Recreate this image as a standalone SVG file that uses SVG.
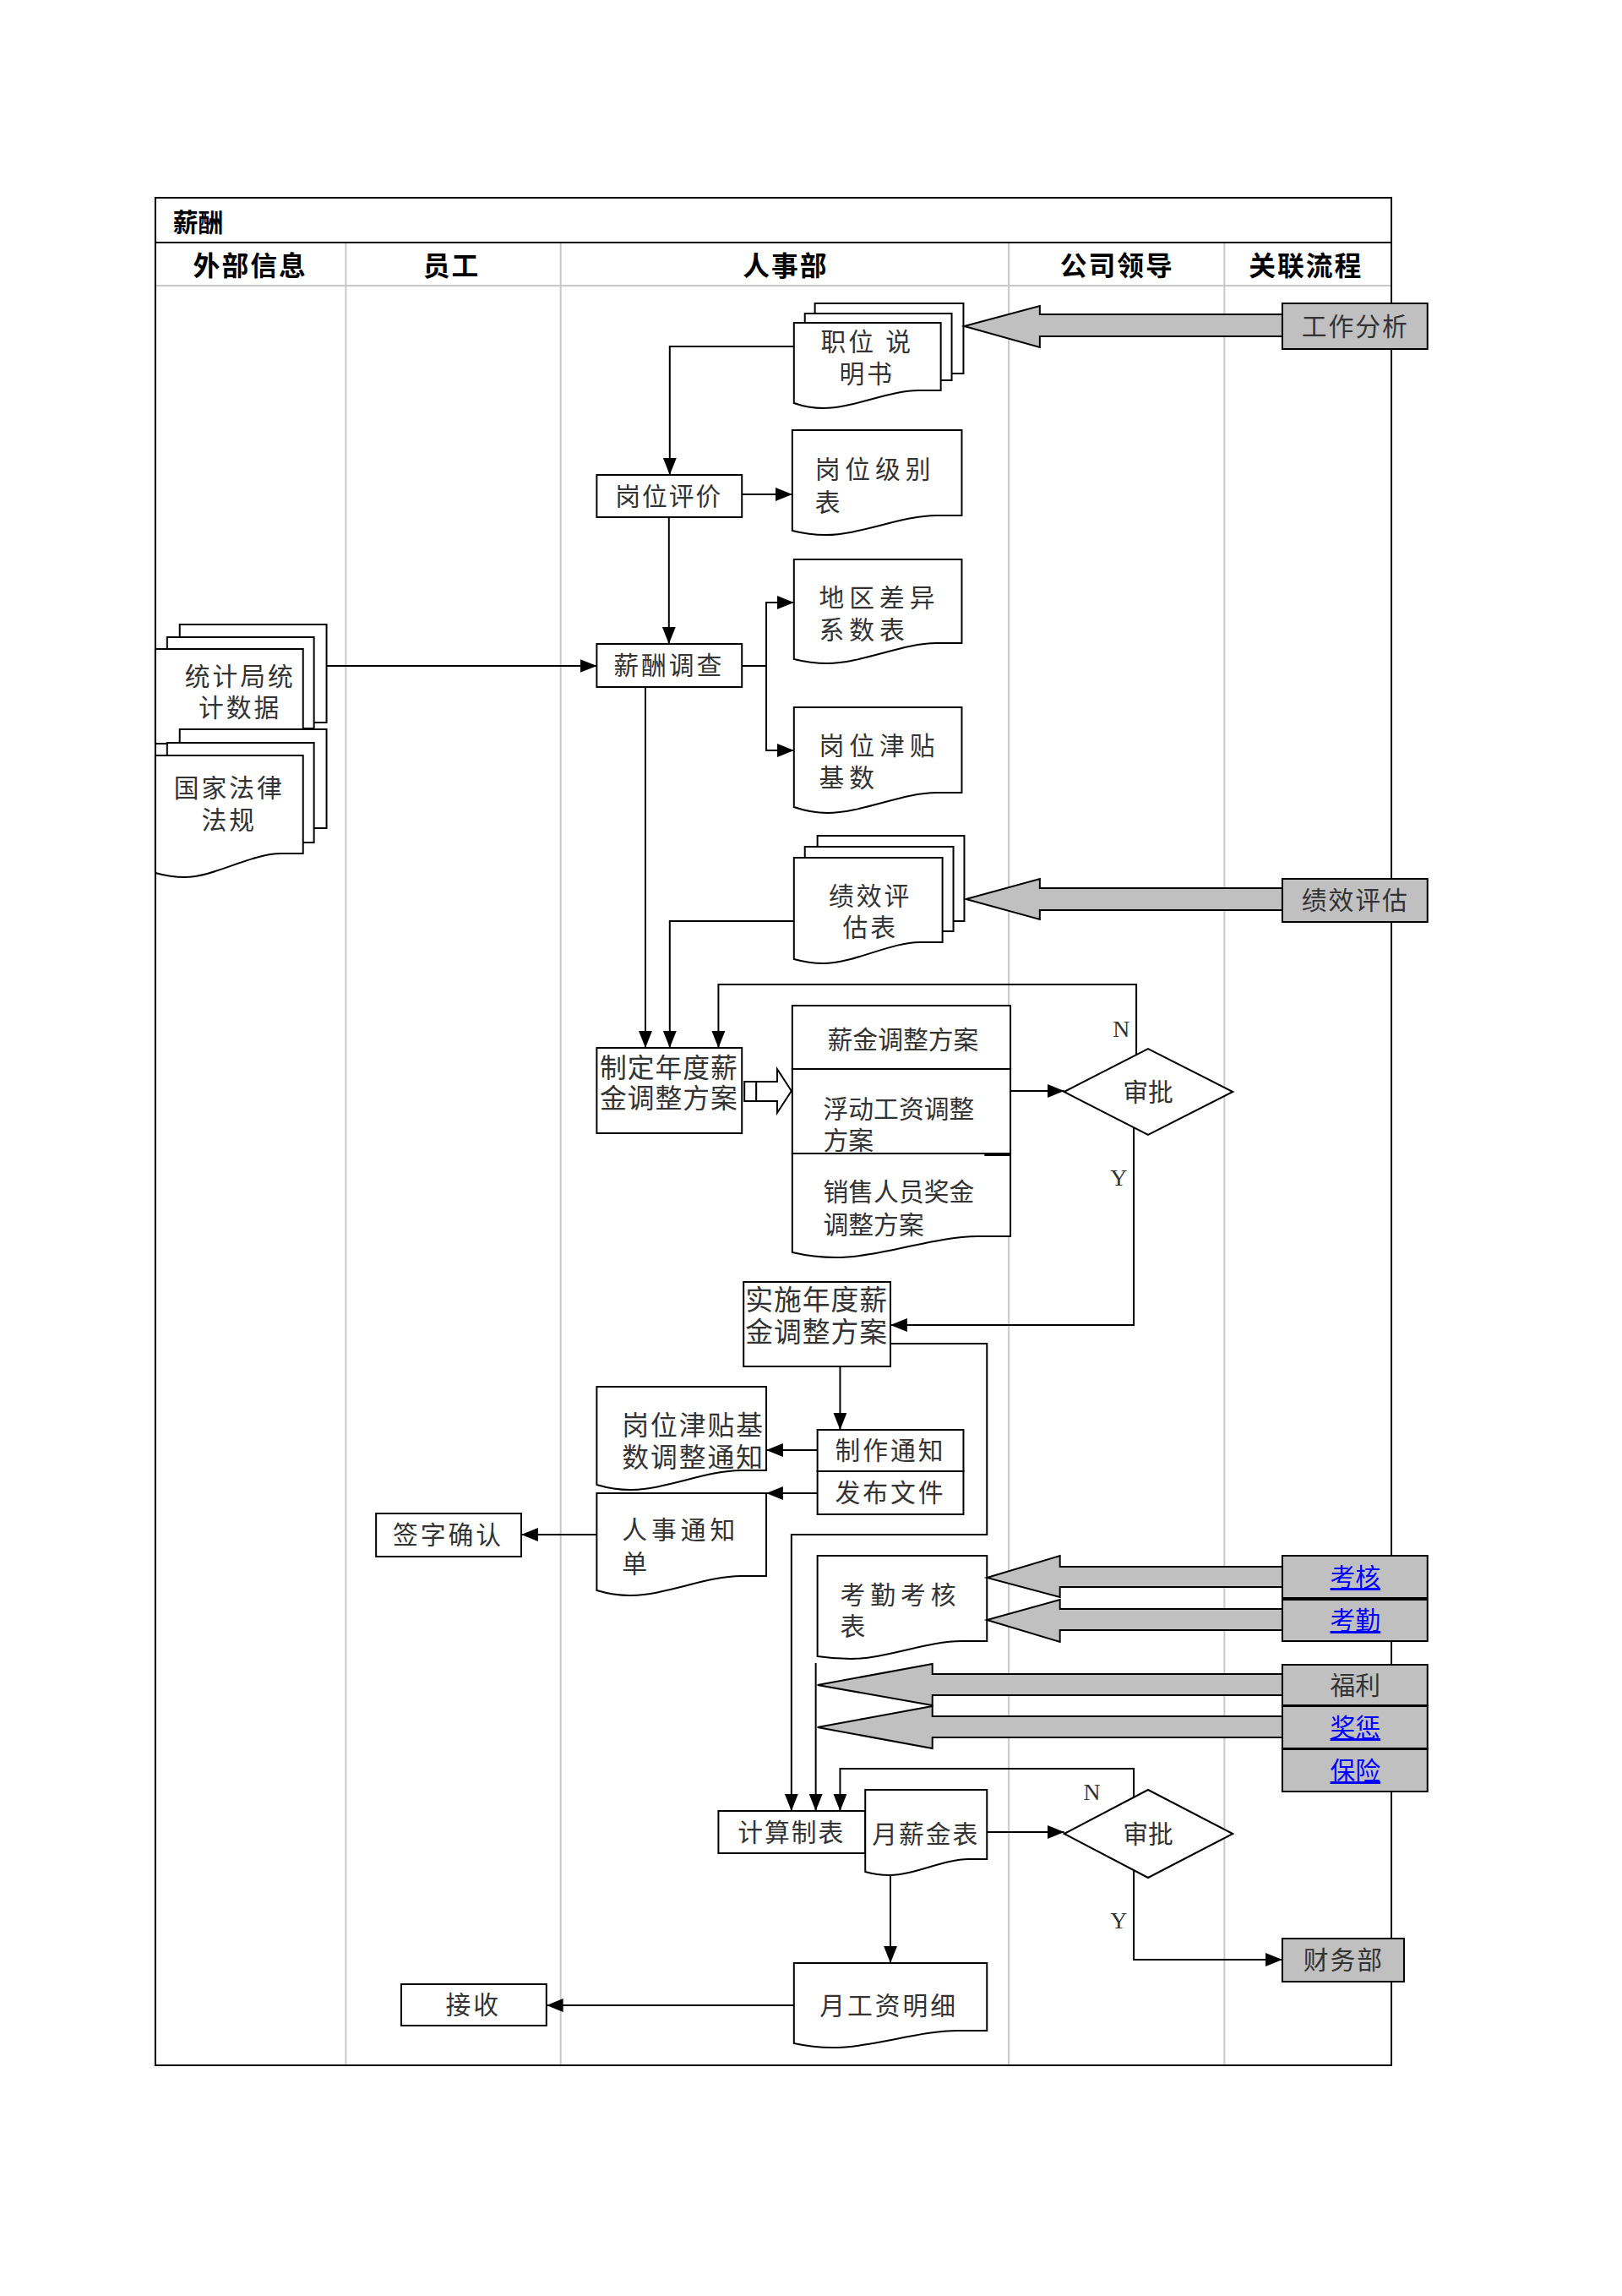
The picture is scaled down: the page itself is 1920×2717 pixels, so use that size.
<svg xmlns="http://www.w3.org/2000/svg" width="1920" height="2717" viewBox="0 0 1920 2717">
<style>
.b{fill:#fff;stroke:#000;stroke-width:2}
.g{fill:#c0c0c0;stroke:#000;stroke-width:2}
.l{fill:none;stroke:#000;stroke-width:2}
.lane{fill:none;stroke:#c8c8c8;stroke-width:2}
.t{font-family:"Liberation Sans","Noto Sans CJK SC",sans-serif;font-size:30px;fill:#333}
.c{text-anchor:middle}
.h{font-weight:bold;fill:#000;font-size:32px}
.k{fill:#00f;text-decoration:underline}
.s{font-family:"Liberation Serif",serif;font-size:28px;fill:#333}
</style>
<defs>
<marker id="a" markerWidth="20" markerHeight="16" refX="20" refY="8" orient="auto" markerUnits="userSpaceOnUse"><path d="M0,0 L20,8 L0,16 Z" fill="#000"/></marker>
</defs>
<rect width="1920" height="2717" fill="#fff"/>
<g id="diagram" transform="translate(1.14,0) scale(0.9933,1)">
<g id="frame">
<line class="lane" x1="411" y1="287" x2="411" y2="2444"/>
<line class="lane" x1="667" y1="287" x2="667" y2="2444"/>
<line class="lane" x1="1201" y1="287" x2="1201" y2="2444"/>
<line class="lane" x1="1458" y1="287" x2="1458" y2="2444"/>
<line class="lane" x1="184" y1="338" x2="1657" y2="338"/>
<rect x="184" y="234" width="1473" height="2210" fill="none" stroke="#000" stroke-width="2"/>
<line class="l" x1="184" y1="287" x2="1657" y2="287"/>
<text class="t h" x="205" y="274" style="font-size:30px">薪酬</text>
<text class="t h c" x="297" y="326" letter-spacing="2">外部信息</text>
<text class="t h c" x="537" y="326" letter-spacing="2">员工</text>
<text class="t h c" x="935" y="326" letter-spacing="2">人事部</text>
<text class="t h c" x="1330" y="326" letter-spacing="2">公司领导</text>
<text class="t h c" x="1555" y="326" letter-spacing="2">关联流程</text>
</g>
<g id="n-zwsms">
<rect class="b" x="970" y="359" width="177" height="83"/>
<rect class="b" x="958" y="371" width="175" height="79"/>
<path class="b" d="M945,382 H1120 V462 H1094 C1059,462 1015,483 980,483 Q962,483 945,477 Z"/>
<text class="t c" x="1032" y="415" letter-spacing="3">职位 说</text>
<text class="t c" x="1032" y="453" letter-spacing="3">明书</text>
</g>
<g id="n-gzfx"><rect class="g" x="1527" y="359" width="173" height="54"/><text class="t c" x="1614" y="397" letter-spacing="2">工作分析</text></g>
<g id="n-gwpj"><rect class="b" x="710" y="562" width="173" height="50"/><text class="t c" x="796" y="598" letter-spacing="2">岗位评价</text></g>
<g id="n-gwjbb">
<path class="b" d="M943,509 H1145 V610 H1115 C1074,610 1024,633 983,633 Q963,633 943,628 Z"/>
<text class="t" x="970" y="566" letter-spacing="6">岗位级别</text>
<text class="t" x="970" y="605">表</text>
</g>
<g id="n-dqcy">
<path class="b" d="M945,662 H1145 V761 H1115 C1075,761 1025,785 985,785 Q965,785 945,780 Z"/>
<text class="t" x="975" y="718" letter-spacing="6">地区差异</text>
<text class="t" x="975" y="756" letter-spacing="6">系数表</text>
</g>
<g id="n-xcdc"><rect class="b" x="710" y="762" width="173" height="51"/><text class="t c" x="796" y="798" letter-spacing="3">薪酬调查</text></g>
<g id="n-gwjt">
<path class="b" d="M945,837 H1145 V938 H1115 C1075,938 1025,962 985,962 Q965,962 945,955 Z"/>
<text class="t" x="975" y="893" letter-spacing="6">岗位津贴</text>
<text class="t" x="975" y="931" letter-spacing="6">基数</text>
</g>
<g id="n-tjj">
<rect class="b" x="213" y="739" width="175" height="116"/>
<rect class="b" x="198" y="754" width="175" height="108"/>
<rect class="b" x="184" y="768" width="176" height="112"/>
<text class="t c" x="285" y="811" letter-spacing="3">统计局统</text>
<text class="t c" x="285" y="848" letter-spacing="3">计数据</text>
</g>
<g id="n-gjfl">
<rect class="b" x="213" y="863" width="175" height="117"/>
<rect class="b" x="198" y="879" width="175" height="118"/>
<path class="b" d="M184,894 H360 V1010 H334 C298,1010 254,1038 219,1038 Q202,1038 184,1033 Z"/>
<text class="t c" x="272" y="943" letter-spacing="3">国家法律</text>
<text class="t c" x="272" y="981" letter-spacing="3">法规</text>
</g>
<g id="n-jxpgb">
<rect class="b" x="973" y="989" width="175" height="101"/>
<rect class="b" x="958" y="1002" width="177" height="100"/>
<path class="b" d="M945,1015 H1122 V1115 H1095 C1060,1115 1016,1140 980,1140 Q963,1140 945,1135 Z"/>
<text class="t c" x="1036" y="1071" letter-spacing="3">绩效评</text>
<text class="t c" x="1036" y="1108" letter-spacing="3">估表</text>
</g>
<g id="n-jxpg"><rect class="g" x="1527" y="1040" width="173" height="51"/><text class="t c" x="1614" y="1076" letter-spacing="2">绩效评估</text></g>
<g id="n-zdnd"><rect class="b" x="710" y="1240" width="173" height="101"/>
<text class="t c" x="796" y="1275" style="font-size:32px" letter-spacing="1">制定年度薪</text>
<text class="t c" x="796" y="1311" style="font-size:32px" letter-spacing="1">金调整方案</text></g>
<g id="n-xjtz"><rect class="b" x="943" y="1190" width="260" height="75"/><text class="t c" x="1075" y="1241">薪金调整方案</text></g>
<g id="n-fdgz"><rect class="b" x="943" y="1265" width="260" height="100"/>
<text class="t" x="980" y="1323">浮动工资调整</text><text class="t" x="980" y="1360">方案</text></g>
<g id="n-xsry">
<path class="b" d="M943,1365 H1203 V1463 H1164 C1112,1463 1047,1488 995,1488 Q969,1488 943,1482 Z"/>
<line x1="1172" y1="1366" x2="1203" y2="1366" stroke="#000" stroke-width="4"/>
<text class="t" x="980" y="1421">销售人员奖金</text><text class="t" x="980" y="1460">调整方案</text></g>
<g id="n-sp1"><polygon class="b" points="1267,1292 1367,1241 1468,1292 1367,1343"/><text class="t c" x="1367" y="1303">审批</text></g>
<g id="n-ssnd"><rect class="b" x="885" y="1517" width="175" height="100"/>
<text class="t c" x="972" y="1550" style="font-size:33px" letter-spacing="1">实施年度薪</text>
<text class="t c" x="972" y="1588" style="font-size:33px" letter-spacing="1">金调整方案</text></g>
<g id="n-gwtz">
<path class="b" d="M710,1641 H912 V1740 H882 C841,1740 791,1763 750,1763 Q730,1763 710,1757 Z"/>
<text class="t" x="740" y="1698" style="font-size:32px" letter-spacing="2">岗位津贴基</text>
<text class="t" x="740" y="1736" style="font-size:32px" letter-spacing="2">数调整通知</text>
</g>
<g id="n-zztz"><rect class="b" x="973" y="1692" width="174" height="49"/><text class="t c" x="1060" y="1727" letter-spacing="3">制作通知</text></g>
<g id="n-fbwj"><rect class="b" x="973" y="1741" width="174" height="51"/><text class="t c" x="1060" y="1777" letter-spacing="3">发布文件</text></g>
<g id="n-rstz">
<path class="b" d="M710,1767 H912 V1865 H882 C841,1865 791,1888 750,1888 Q730,1888 710,1882 Z"/>
<text class="t" x="740" y="1821" letter-spacing="5">人事通知</text>
<text class="t" x="740" y="1861">单</text>
</g>
<g id="n-qzqr"><rect class="b" x="447" y="1791" width="173" height="51"/><text class="t c" x="533" y="1827" letter-spacing="3">签字确认</text></g>
<g id="n-kqkh">
<path class="b" d="M973,1841 H1175 V1942 H1145 C1104,1942 1054,1963 1013,1963 Q993,1963 973,1960 Z"/>
<text class="t" x="1000" y="1898" letter-spacing="6">考勤考核</text>
<text class="t" x="1000" y="1935">表</text>
</g>
<g id="n-kh"><rect class="g" x="1527" y="1841" width="173" height="50"/><text class="t c k" x="1614" y="1877">考核</text></g>
<g id="n-kq"><rect class="g" x="1527" y="1893" width="173" height="49"/><text class="t c k" x="1614" y="1928">考勤</text></g>
<g id="n-fl"><rect class="g" x="1527" y="1970" width="173" height="48"/><text class="t c" x="1614" y="2005">福利</text></g>
<g id="n-jc"><rect class="g" x="1527" y="2019" width="173" height="50"/><text class="t c k" x="1614" y="2055">奖惩</text></g>
<g id="n-bx"><rect class="g" x="1527" y="2070" width="173" height="50"/><text class="t c k" x="1614" y="2106">保险</text></g>
<g id="n-jszb"><rect class="b" x="855" y="2143" width="175" height="50"/><text class="t c" x="942" y="2179" letter-spacing="2">计算制表</text></g>
<g id="n-yxjb">
<path class="b" d="M1030,2118 H1175 V2200 H1153 C1124,2200 1088,2219 1059,2219 Q1044,2219 1030,2215 Z"/>
<text class="t c" x="1102" y="2181" letter-spacing="2">月薪金表</text>
</g>
<g id="n-sp2"><polygon class="b" points="1267,2170 1367,2118 1468,2170 1367,2222"/><text class="t c" x="1367" y="2181">审批</text></g>
<g id="n-ygz">
<path class="b" d="M945,2323 H1175 V2403 H1140 C1095,2403 1037,2423 991,2423 Q968,2423 945,2418 Z"/>
<text class="t c" x="1058" y="2384" letter-spacing="3">月工资明细</text>
</g>
<g id="n-js"><rect class="b" x="477" y="2348" width="173" height="49"/><text class="t c" x="563" y="2383" letter-spacing="3">接收</text></g>
<g id="n-cwb"><rect class="g" x="1527" y="2294" width="145" height="51"/><text class="t c" x="1600" y="2330" letter-spacing="2">财务部</text></g>
<g id="connectors">
<polygon class="g" points="1148,386 1238,362 1238,372 1527,372 1527,398 1238,398 1238,411"/>
<polygon class="g" points="1150,1064 1238,1040 1238,1051 1527,1051 1527,1077 1238,1077 1238,1088"/>
<polygon class="g" points="1175,1867 1262,1841 1262,1854 1527,1854 1527,1878 1262,1878 1262,1890"/>
<polygon class="g" points="1175,1917 1262,1893 1262,1904 1527,1904 1527,1929 1262,1929 1262,1943"/>
<polygon class="g" points="973,1994 1110,1969 1110,1981 1527,1981 1527,2006 1110,2006 1110,2018"/>
<polygon class="g" points="973,2044 1110,2019 1110,2031 1527,2031 1527,2056 1110,2056 1110,2069"/>
<polygon class="b" points="900,1280 925,1280 925,1265 942,1291 925,1317 925,1303 900,1303"/>
<rect class="b" x="886" y="1280" width="14" height="23"/>
<path class="l" d="M945,410 H797 V562" marker-end="url(#a)"/>
<path class="l" d="M883,585 H943" marker-end="url(#a)"/>
<path class="l" d="M796,612 V762" marker-end="url(#a)"/>
<path class="l" d="M388,788 H710" marker-end="url(#a)"/>
<path class="l" d="M883,788 H912"/>
<path class="l" d="M912,788 V713 H945" marker-end="url(#a)"/>
<path class="l" d="M912,788 V888 H945" marker-end="url(#a)"/>
<path class="l" d="M768,813 V1240" marker-end="url(#a)"/>
<path class="l" d="M945,1090 H797 V1240" marker-end="url(#a)"/>
<path class="l" d="M1353,1248 V1165 H855 V1240" marker-end="url(#a)"/>
<path class="l" d="M1203,1291 H1267" marker-end="url(#a)"/>
<path class="l" d="M1350,1334 V1568 H1060" marker-end="url(#a)"/>
<path class="l" d="M1060,1590 H1175 V1816 H942 V2143" marker-end="url(#a)"/>
<path class="l" d="M1000,1617 V1692" marker-end="url(#a)"/>
<path class="l" d="M973,1716 H912" marker-end="url(#a)"/>
<path class="l" d="M973,1767 H912" marker-end="url(#a)"/>
<path class="l" d="M710,1816 H620" marker-end="url(#a)"/>
<path class="l" d="M971,1968 V2143" marker-end="url(#a)"/>
<path class="l" d="M1350,2127 V2093 H1000 V2143" marker-end="url(#a)"/>
<path class="l" d="M1175,2168 H1267" marker-end="url(#a)"/>
<path class="l" d="M1060,2219 V2323" marker-end="url(#a)"/>
<path class="l" d="M945,2373 H650" marker-end="url(#a)"/>
<path class="l" d="M1350,2213 V2319 H1527" marker-end="url(#a)"/>
<text class="s" x="1325" y="1227">N</text>
<text class="s" x="1322" y="1403">Y</text>
<text class="s" x="1290" y="2130">N</text>
<text class="s" x="1322" y="2282">Y</text>
</g>
</g>
</svg>
